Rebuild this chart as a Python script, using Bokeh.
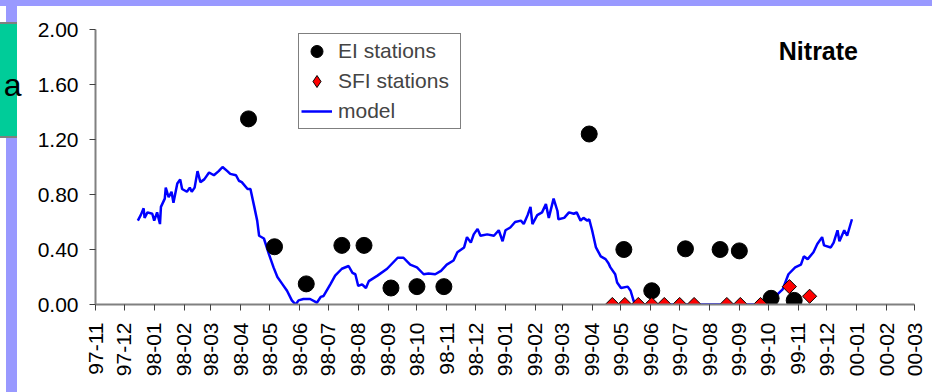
import numpy as np
import pandas as pd
from bokeh.plotting import figure
from bokeh.models import (Range1d, FixedTicker, DatetimeTickFormatter, NumeralTickFormatter,
                          Label, Legend, LegendItem, LinearAxis)
from bokeh.embed import file_html
from bokeh.resources import INLINE

# ---------------- data ----------------
tick_labels = ["97-11", "97-12", "98-01", "98-02", "98-03", "98-04", "98-05", "98-06",
               "98-07", "98-08", "98-09", "98-10", "98-11", "98-12", "99-01", "99-02",
               "99-03", "99-04", "99-05", "99-06", "99-07", "99-08", "99-09", "99-10",
               "99-11", "99-12", "00-01", "00-02", "00-03"]
y_ticks = [0.0, 0.4, 0.8, 1.2, 1.6, 2.0]

ei_dates = ["1998-04-09", "1998-05-06", "1998-06-08", "1998-07-15", "1998-08-07",
            "1998-09-04", "1998-10-01", "1998-10-29", "1999-03-29", "1999-05-04",
            "1999-06-02", "1999-07-07", "1999-08-12", "1999-09-01", "1999-10-04",
            "1999-10-28"]
ei_values = [1.35, 0.42, 0.15, 0.43, 0.43, 0.12, 0.13, 0.13, 1.24, 0.40,
             0.10, 0.405, 0.40, 0.39, 0.045, 0.03]

sfi_dates = ["1999-04-22", "1999-05-05", "1999-05-19", "1999-06-02", "1999-06-15",
             "1999-07-01", "1999-07-16", "1999-08-19", "1999-09-02", "1999-09-23",
             "1999-10-23", "1999-11-13"]
sfi_values = [0.0, 0.0, 0.0, 0.0, 0.0, 0.0, 0.0, 0.0, 0.0, 0.0, 0.13, 0.06]

model_dates = [
    "1997-12-15", "1997-12-18", "1997-12-21", "1997-12-22", "1997-12-25", "1997-12-30",
    "1998-01-01", "1998-01-04", "1998-01-07", "1998-01-08", "1998-01-12", "1998-01-13",
    "1998-01-16", "1998-01-19", "1998-01-21", "1998-01-25", "1998-01-28", "1998-01-30",
    "1998-02-04", "1998-02-07", "1998-02-09", "1998-02-12", "1998-02-15", "1998-02-18",
    "1998-02-22", "1998-02-27", "1998-03-04", "1998-03-09", "1998-03-13", "1998-03-18",
    "1998-03-21", "1998-03-27", "1998-03-30", "1998-04-02", "1998-04-08", "1998-04-11",
    "1998-04-15", "1998-04-18", "1998-04-20", "1998-04-25", "1998-04-30", "1998-05-05",
    "1998-05-09", "1998-05-14", "1998-05-19", "1998-05-24", "1998-05-28", "1998-05-31",
    "1998-06-05", "1998-06-12", "1998-06-19", "1998-06-23", "1998-06-26", "1998-07-03",
    "1998-07-08", "1998-07-15", "1998-07-22", "1998-07-26", "1998-07-29", "1998-08-01",
    "1998-08-05", "1998-08-09", "1998-08-12", "1998-08-21", "1998-08-31", "1998-09-11",
    "1998-09-17", "1998-09-24", "1998-10-01", "1998-10-08", "1998-10-13", "1998-10-20",
    "1998-10-26", "1998-11-01", "1998-11-08", "1998-11-12", "1998-11-19", "1998-11-22",
    "1998-11-26", "1998-11-29", "1998-12-03", "1998-12-06", "1998-12-13", "1998-12-20",
    "1998-12-25", "1998-12-29", "1999-01-01", "1999-01-06", "1999-01-11", "1999-01-17",
    "1999-01-20", "1999-01-24", "1999-01-27", "1999-01-29", "1999-02-03", "1999-02-08",
    "1999-02-12", "1999-02-15", "1999-02-20", "1999-02-24", "1999-02-25", "1999-03-03",
    "1999-03-08", "1999-03-13", "1999-03-16", "1999-03-20", "1999-03-23", "1999-03-27",
    "1999-03-29", "1999-04-01", "1999-04-05", "1999-04-10", "1999-04-15", "1999-04-18",
    "1999-04-20", "1999-04-25", "1999-04-27", "1999-05-01", "1999-05-08", "1999-05-11",
    "1999-05-14", "1999-05-16", "1999-10-01", "1999-10-07", "1999-10-16", "1999-10-22",
    "1999-10-29", "1999-11-04", "1999-11-07", "1999-11-11", "1999-11-17", "1999-11-21",
    "1999-11-26", "1999-11-28", "1999-12-05", "1999-12-08", "1999-12-12", "1999-12-14",
    "1999-12-19", "1999-12-22", "1999-12-27"]
model_values = [
    0.61, 0.65, 0.70, 0.63, 0.67, 0.66,
    0.61, 0.67, 0.585, 0.71, 0.77, 0.85,
    0.78, 0.82, 0.74, 0.88, 0.91, 0.84,
    0.82, 0.85, 0.82, 0.85, 0.97, 0.89,
    0.91, 0.96, 0.94, 0.97, 1.00, 0.97,
    0.95, 0.94, 0.90, 0.89, 0.84, 0.84,
    0.71, 0.61, 0.50, 0.48, 0.37, 0.27,
    0.20, 0.15, 0.10, 0.03, 0.0, 0.03,
    0.04, 0.04, 0.013, 0.055, 0.062, 0.147,
    0.21, 0.26, 0.28, 0.23, 0.22, 0.135,
    0.147, 0.12, 0.17, 0.21, 0.26, 0.34,
    0.34, 0.29, 0.27, 0.22, 0.225, 0.22,
    0.245, 0.29, 0.32, 0.38, 0.415, 0.49,
    0.45, 0.51, 0.55, 0.50, 0.51, 0.50,
    0.54, 0.46, 0.54, 0.56, 0.60, 0.61,
    0.585, 0.65, 0.71, 0.585, 0.65, 0.67,
    0.73, 0.63, 0.77, 0.68, 0.62, 0.63,
    0.67, 0.66, 0.67, 0.61, 0.63, 0.61,
    0.62, 0.54, 0.415, 0.35, 0.33, 0.30,
    0.27, 0.22, 0.16, 0.12, 0.13, 0.10,
    0.03, 0.0, 0.0, 0.05, 0.11, 0.22,
    0.27, 0.29, 0.35, 0.33, 0.38, 0.44,
    0.49, 0.43, 0.415, 0.45, 0.54, 0.46,
    0.54, 0.50, 0.62]

# ---------------- figure ----------------
FONT = "Liberation Sans"
x_start = pd.to_datetime(tick_labels[0], format="%y-%m")
x_end = pd.to_datetime(tick_labels[-1], format="%y-%m")

p = figure(width=932, height=392, x_axis_type="datetime", output_backend="svg",
           toolbar_location=None,
           x_range=Range1d(x_start, x_end), y_range=Range1d(0, 2.0),
           min_border_left=95, min_border_right=18, min_border_top=29, min_border_bottom=88)
p.background_fill_color = "white"
p.border_fill_color = None          # let the slide decoration below show through
p.outline_line_color = None
p.xgrid.grid_line_color = None
p.ygrid.grid_line_color = None

# slide decoration around the chart (lavender strips, green tab) painted as CSS background
LAV = "#9999FF"
p.styles = {
    "background-color": "white",
    "background-image": ("linear-gradient(#00CC99,#00CC99), "
                         "linear-gradient(#808080,#808080), "
                         f"linear-gradient({LAV},{LAV}), "
                         f"linear-gradient({LAV},{LAV})"),
    "background-size": "17px 112px, 17px 116px, 11px 392px, 932px 6px",
    "background-position": "0px 24px, 0px 22px, 6px 0px, 0px 0px",
    "background-repeat": "no-repeat",
}

model_line = p.line(pd.to_datetime(model_dates), model_values, line_color="#0000FF",
                    line_width=2.5)
ei_r = p.scatter(pd.to_datetime(ei_dates), ei_values, marker="circle", size=16,
                 fill_color="black", line_color="black")
sfi_r = p.scatter(pd.to_datetime(sfi_dates), sfi_values, marker="square", angle=np.pi / 4,
                  size=10, fill_color="#FF0000", line_color="black", line_width=1)
# legend swatch for the SFI diamonds (a single NaN point, never drawn in the plot)
sfi_key = p.scatter(x=[x_start], y=[np.nan], marker="diamond", size=20, fill_color="#FF0000",
                    line_color="black", line_width=1)

# axes
tick_ms = [pd.to_datetime(t, format="%y-%m").value // 10**6 for t in tick_labels]
p.xaxis.ticker = FixedTicker(ticks=tick_ms)
fmt = "%y-%m"
p.xaxis.formatter = DatetimeTickFormatter(microseconds=fmt, milliseconds=fmt, seconds=fmt,
                                          minsec=fmt, minutes=fmt, hourmin=fmt, hours=fmt,
                                          days=fmt, months=fmt, years=fmt)
p.xaxis.major_label_orientation = np.pi / 2
p.yaxis.ticker = FixedTicker(ticks=y_ticks)
p.yaxis.formatter = NumeralTickFormatter(format="0.00")

for ax in (p.xaxis, p.yaxis):
    ax.axis_line_color = "#808080"
    ax.axis_line_width = 2
    ax.major_tick_line_color = "#404040"
    ax.major_tick_line_width = 1
    ax.major_tick_in = 0
    ax.major_tick_out = 6
    ax.minor_tick_line_color = None
    ax.major_label_text_font = FONT
    ax.major_label_text_font_size = "21px"
    ax.major_label_text_color = "black"
p.xaxis.major_label_standoff = 12
p.yaxis.major_label_standoff = 11

# the "a" of the slide's green tab, at the far left (an outer, line-less axis)
tab_axis = LinearAxis(ticker=FixedTicker(ticks=[1.595]), major_label_overrides={1.595: "a"},
                      axis_line_color=None, major_tick_line_color=None, minor_tick_line_color=None,
                      major_tick_in=0, major_tick_out=0, major_label_standoff=13,
                      major_label_text_font=FONT, major_label_text_font_size="32px",
                      major_label_text_color="black")
p.add_layout(tab_axis, "left")

# annotation
p.add_layout(Label(x=pd.Timestamp("1999-10-12").value // 10**6, y=1.842, text="Nitrate",
                   text_font=FONT, text_font_size="25px", text_font_style="bold",
                   text_color="black", text_baseline="alphabetic"))

legend = Legend(items=[LegendItem(label="EI stations", renderers=[ei_r]),
                       LegendItem(label="SFI stations", renderers=[sfi_key]),
                       LegendItem(label="model", renderers=[model_line])],
                location=(203, 175))
legend.label_text_font = FONT
legend.label_text_font_size = "21px"
legend.border_line_color = "black"
legend.border_line_width = 1
legend.background_fill_color = "white"
legend.background_fill_alpha = 1
legend.padding = 2
legend.spacing = 0
legend.glyph_width = 31
legend.glyph_height = 30
legend.label_height = 30
legend.label_standoff = 6
legend.label_width = 120
legend.margin = 0
p.add_layout(legend, "center")

open("out.html", "w").write(file_html(p, INLINE))
